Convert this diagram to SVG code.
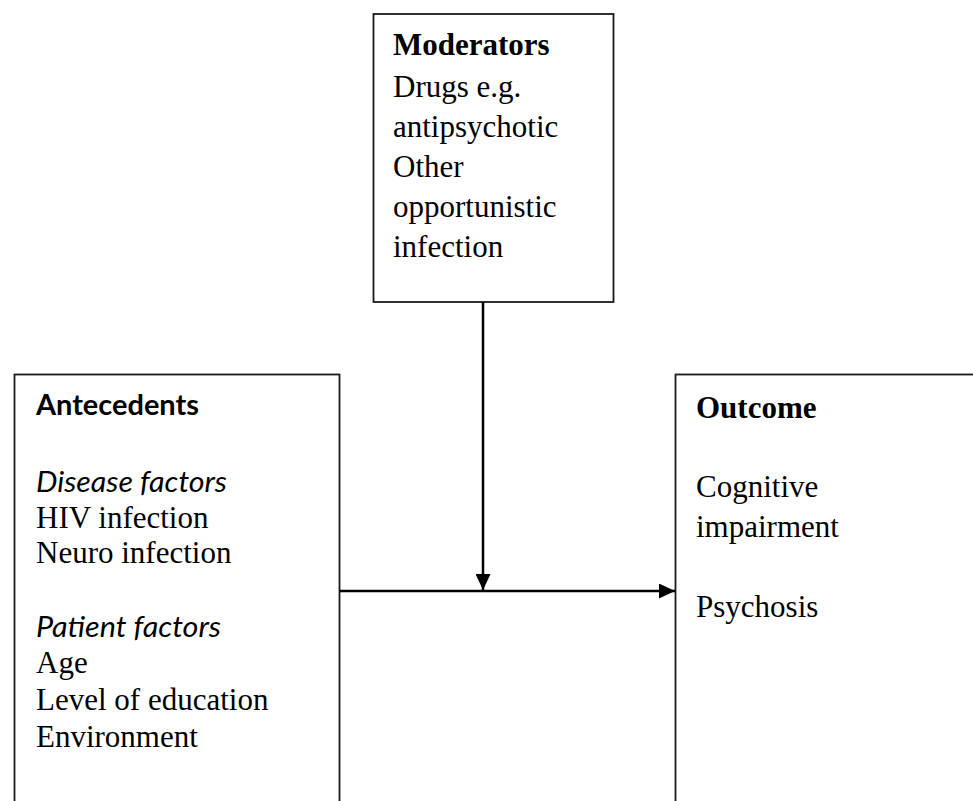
<svg xmlns="http://www.w3.org/2000/svg" width="973" height="801" viewBox="0 0 973 801">
<style>
.box{fill:#fff;stroke:#1a1a1a;stroke-width:1.8}
.t{font-family:"Liberation Serif","Times New Roman",serif;font-size:31px;fill:#000}
.b{font-weight:bold}
.c{font-family:Lato,"Open Sans",sans-serif;font-size:28px;fill:#000}
.conn{stroke:#000;stroke-width:2.5;fill:none}
</style>
<defs>
<marker id="ah" markerWidth="16" markerHeight="15" refX="16" refY="7.5" orient="auto" markerUnits="userSpaceOnUse">
<path d="M0,0 L16,7.5 L0,15 Z" fill="#000"/>
</marker>
</defs>
<rect width="973" height="801" fill="#fff"/>
<g id="moderators">
<rect class="box" x="373.5" y="14" width="240" height="288"/>
<text class="t b" x="393" y="55">Moderators</text>
<text class="t" x="393" y="97">Drugs e.g.</text>
<text class="t" x="393" y="137">antipsychotic</text>
<text class="t" x="393" y="177">Other</text>
<text class="t" x="393" y="217">opportunistic</text>
<text class="t" x="393" y="257">infection</text>
</g>
<g id="antecedents">
<rect class="box" x="14.5" y="374.5" width="325" height="440"/>
<text class="c" font-weight="bold" x="36" y="415" textLength="163" lengthAdjust="spacingAndGlyphs">Antecedents</text>
<text class="c" font-style="italic" x="36" y="492" textLength="191" lengthAdjust="spacingAndGlyphs">Disease factors</text>
<text class="t" x="36" y="528" font-size="32">HIV infection</text>
<text class="t" x="36" y="563" font-size="29">Neuro infection</text>
<text class="c" font-style="italic" x="36" y="637" textLength="185" lengthAdjust="spacingAndGlyphs">Patient factors</text>
<text class="t" x="36" y="673">Age</text>
<text class="t" x="36" y="710">Level of education</text>
<text class="t" x="36" y="747">Environment</text>
</g>
<g id="outcome">
<rect class="box" x="675.5" y="374.5" width="320" height="440"/>
<text class="t b" x="696" y="418">Outcome</text>
<text class="t" x="696" y="497">Cognitive</text>
<text class="t" x="696" y="537">impairment</text>
<text class="t" x="696" y="617">Psychosis</text>
</g>
<g id="connectors">
<line class="conn" x1="483" y1="302" x2="483" y2="590" marker-end="url(#ah)"/>
<line class="conn" x1="340" y1="591" x2="675" y2="591" marker-end="url(#ah)"/>
</g>
</svg>
